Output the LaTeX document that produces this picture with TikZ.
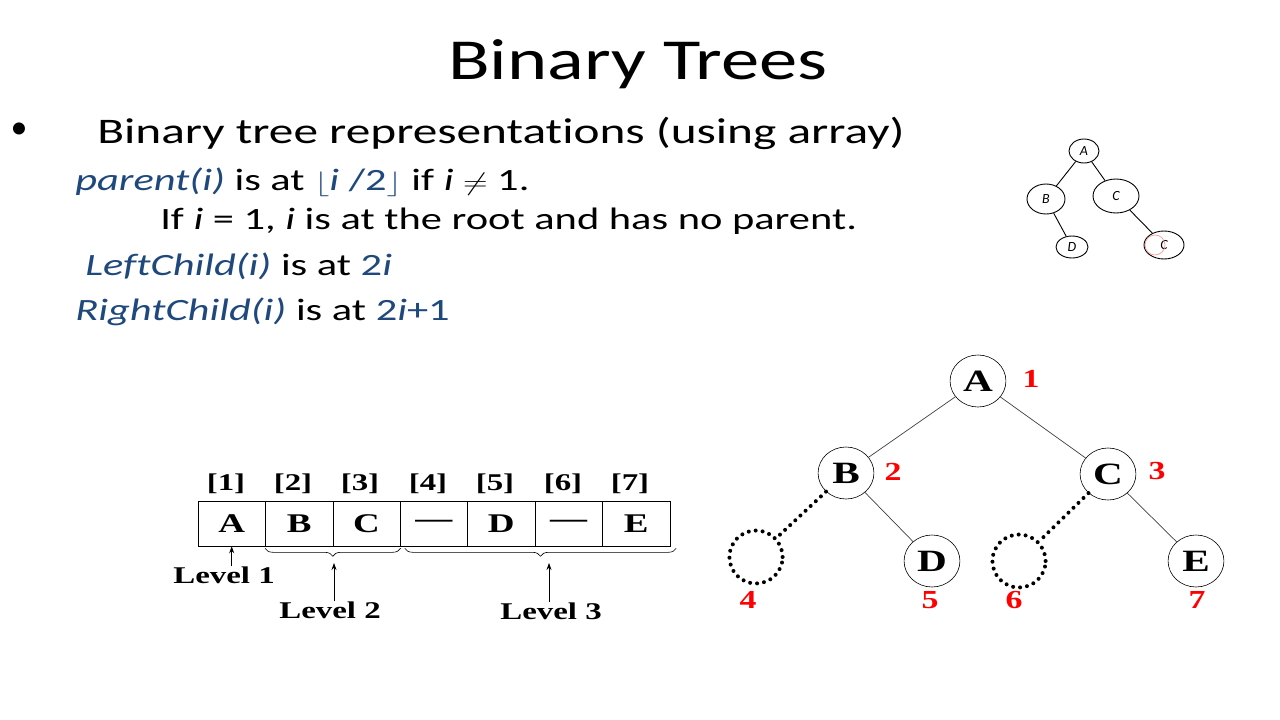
\documentclass[tikz,border=0pt]{standalone}
\usepackage{fontspec}
\usepackage{xcolor}
\usepackage{tikz}
\usetikzlibrary{arrows.meta, positioning, shapes.geometric, calc, decorations.pathreplacing}
\setmainfont{Carlito}[Ligatures=NoCommon]
\newfontfamily\timesb{Liberation Serif}
\definecolor{slideblue}{HTML}{1F497D}
\definecolor{numred}{HTML}{FF0000}

\begin{document}
\begin{tikzpicture}[x=1pt, y=-1pt,
    ttl/.style={font=\fontsize{58}{60}\selectfont, xscale=1.32, inner sep=0, anchor=base},
    body/.style={font=\fontsize{#1}{#1}\selectfont, xscale=1.37, inner sep=0, anchor=base west},
    cell/.style={draw, line width=0.6pt, minimum width=49.2pt, minimum height=45pt, inner sep=0,
                 xscale=1.37, font=\timesb\bfseries\fontsize{27}{28}\selectfont},
    lbl/.style={font=\timesb\bfseries\fontsize{24}{26}\selectfont, xscale=1.37, inner sep=0},
    tn/.style={ellipse, draw, line width=0.6pt, minimum width=42pt, minimum height=52pt, inner sep=0,
               xscale=1.33, font=\timesb\bfseries\fontsize{31}{31}\selectfont},
    ghost/.style={ellipse, draw, line width=4pt, dash pattern=on 0pt off 7pt, line cap=round,
                  minimum width=40pt, minimum height=53pt, inner sep=0, xscale=1.33},
    num/.style={text=numred, font=\timesb\bfseries\fontsize{26}{28}\selectfont, xscale=1.3, inner sep=0},
    edge/.style={draw=black!75, line width=0.7pt},
    dots/.style={line width=4pt, dash pattern=on 0pt off 7pt, line cap=round},
    up/.style={-{Stealth[length=7pt, width=5pt]}, line width=0.7pt},
    sk/.style={ellipse, draw, line width=0.9pt, inner sep=0, font=\itshape\fontsize{14}{14}\selectfont},
]
    \fill[white] (0,0) rectangle (1280,720);
    \useasboundingbox (0,0) rectangle (1280,720);

    % Title and text
    \node[ttl] (title) at (638,79) {Binary Trees};
    \node[font=\fontsize{34}{34}\selectfont] (bullet) at (19,131) {•};
    \node[body=36] (intro) at (97,143) {Binary tree representations (using array)};
    \node[body=31] (parent) at (75,190)
        {{\color{slideblue}\itshape parent(i)} is at {\color{slideblue}$\lfloor$\textit{i} /2$\rfloor$} if \textit{i} $\neq$ 1.};
    \node[body=31] (root) at (160,229) {If \textit{i} = 1, \textit{i} is at the root and has no parent.};
    \node[body=31] (left) at (85,275) {{\color{slideblue}\itshape LeftChild(i)} is at {\color{slideblue}2\textit{i}}};
    \node[body=31] (right) at (75,320) {{\color{slideblue}\itshape RightChild(i)} is at {\color{slideblue}2\textit{i}+1}};

    % Hand sketch
    \node[sk, minimum width=30pt, minimum height=24pt] (sA) at (1084,151) {A};
    \node[sk, minimum width=38pt, minimum height=30pt] (sB) at (1046,199) {B};
    \node[sk, minimum width=46pt, minimum height=34pt] (sC) at (1116,196) {C};
    \node[sk, minimum width=32pt, minimum height=22pt] (sD) at (1072,247) {D};
    \node[sk, minimum width=40pt, minimum height=28pt] (sE) at (1164,245) {C};
    \node[circle, draw=pink!80!red, line width=0.7pt, minimum size=20pt, inner sep=0] (sP) at (1155,245) {};
    \draw[line width=0.9pt] (sA) -- (sB);
    \draw[line width=0.9pt] (sA) -- (sC);
    \draw[line width=0.9pt] (sB) -- (sD);
    \draw[line width=0.9pt] (sC) -- (sE);

    % Array cells
    \node[cell] (c1) at (231.7,523.5) {A};
    \node[cell] (c2) at (299.1,523.5) {B};
    \node[cell] (c3) at (366.5,523.5) {C};
    \node[cell] (c4) at (433.9,523.5) {—};
    \node[cell] (c5) at (501.3,523.5) {D};
    \node[cell] (c6) at (568.7,523.5) {—};
    \node[cell] (c7) at (636.1,523.5) {E};

    \node[lbl] (i1) at (226,484) {[1]};
    \node[lbl] (i2) at (293,484) {[2]};
    \node[lbl] (i3) at (360,484) {[3]};
    \node[lbl] (i4) at (428,484) {[4]};
    \node[lbl] (i5) at (495,484) {[5]};
    \node[lbl] (i6) at (563,484) {[6]};
    \node[lbl] (i7) at (630,484) {[7]};

    % Levels
    \draw[decorate, decoration={brace, mirror, amplitude=8pt, raise=2pt}, line width=0.6pt]
        (c2.south west) -- (c3.south east);
    \draw[decorate, decoration={brace, mirror, amplitude=8pt, raise=2pt}, line width=0.6pt]
        ($(c4.south west)+(5,0)$) -- ($(c7.south east)+(6,0)$);
    \coordinate (tip2) at (334,563);
    \coordinate (tip3) at (549,563);

    \node[lbl] (lv1) at (224,575) {Level 1};
    \node[lbl] (lv2) at (330,610) {Level 2};
    \node[lbl] (lv3) at (551,611) {Level 3};
    \draw[up] (lv1.north -| c1.south) -- ++(0,-2) -- (c1.south);
    \draw[up] (tip2 |- lv2.north) -- (tip2);
    \draw[up] (tip3 |- lv3.north) -- (tip3);

    % Tree
    \node[tn] (A) at (978,381) {A};
    \node[tn] (B) at (846,473) {B};
    \node[tn] (C) at (1108,474) {C};
    \node[ghost] (G4) at (756,557) {};
    \node[tn] (D) at (932,561) {D};
    \node[ghost] (G6) at (1019,561) {};
    \node[tn] (E) at (1196,561) {E};

    \node[num] (n1) at (1031,379) {1};
    \node[num] (n2) at (893,472) {2};
    \node[num] (n3) at (1157,471) {3};
    \node[num] (n4) at (748,600) {4};
    \node[num] (n5) at (930,600) {5};
    \node[num] (n6) at (1014,600) {6};
    \node[num] (n7) at (1197,600) {7};

    \draw[edge] (A) -- (B);
    \draw[edge] (A) -- (C);
    \draw[edge] (B) -- (D);
    \draw[edge] (C) -- (E);
    \draw[dots] (B) -- (G4);
    \draw[dots] (C) -- (G6);
\end{tikzpicture}
\end{document}
